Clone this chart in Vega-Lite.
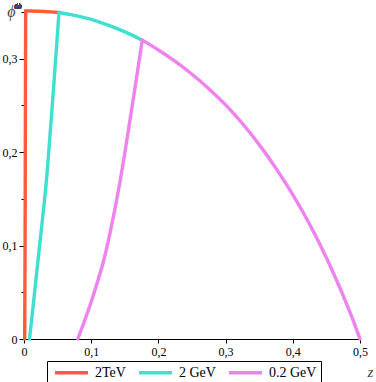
{
  "$schema": "https://vega.github.io/schema/vega-lite/v6.json",
  "width": 336,
  "height": 328,
  "autosize": {"type": "none"},
  "padding": {"left": 24, "top": 11, "right": 16, "bottom": 43},
  "background": "white",
  "config": {"view": {"stroke": null}},
  "data": {"values": [
    {"s": "2TeV", "p": "r", "z": 0.001, "phi": 0},
    {"s": "2TeV", "p": "r", "z": 0.0016, "phi": 0.1},
    {"s": "2TeV", "p": "r", "z": 0.0021, "phi": 0.25},
    {"s": "2TeV", "p": "r", "z": 0.0025, "phi": 0.3511},
    {"s": "2TeV", "p": "e", "z": 0.0025, "phi": 0.3511},
    {"s": "2TeV", "p": "e", "z": 0.01, "phi": 0.3510},
    {"s": "2TeV", "p": "e", "z": 0.02, "phi": 0.3508},
    {"s": "2TeV", "p": "e", "z": 0.03, "phi": 0.3505},
    {"s": "2TeV", "p": "e", "z": 0.04, "phi": 0.3501},
    {"s": "2TeV", "p": "e", "z": 0.052, "phi": 0.3494},
    {"s": "2 GeV", "p": "r", "z": 0.0082, "phi": 0},
    {"s": "2 GeV", "p": "r", "z": 0.0141, "phi": 0.0385},
    {"s": "2 GeV", "p": "r", "z": 0.0193, "phi": 0.0738},
    {"s": "2 GeV", "p": "r", "z": 0.0246, "phi": 0.1091},
    {"s": "2 GeV", "p": "r", "z": 0.0301, "phi": 0.1455},
    {"s": "2 GeV", "p": "r", "z": 0.0341, "phi": 0.1754},
    {"s": "2 GeV", "p": "r", "z": 0.0387, "phi": 0.2182},
    {"s": "2 GeV", "p": "r", "z": 0.0427, "phi": 0.2556},
    {"s": "2 GeV", "p": "r", "z": 0.0476, "phi": 0.3048},
    {"s": "2 GeV", "p": "r", "z": 0.0521, "phi": 0.3494},
    {"s": "2 GeV", "p": "e", "z": 0.0521, "phi": 0.3494},
    {"s": "2 GeV", "p": "e", "z": 0.07, "phi": 0.3471},
    {"s": "2 GeV", "p": "e", "z": 0.09, "phi": 0.3438},
    {"s": "2 GeV", "p": "e", "z": 0.11, "phi": 0.3396},
    {"s": "2 GeV", "p": "e", "z": 0.13, "phi": 0.3345},
    {"s": "2 GeV", "p": "e", "z": 0.15, "phi": 0.3287},
    {"s": "2 GeV", "p": "e", "z": 0.176, "phi": 0.3198},
    {"s": "0.2 GeV", "p": "r", "z": 0.0801, "phi": 0},
    {"s": "0.2 GeV", "p": "r", "z": 0.0911, "phi": 0.0214},
    {"s": "0.2 GeV", "p": "r", "z": 0.1009, "phi": 0.0417},
    {"s": "0.2 GeV", "p": "r", "z": 0.1107, "phi": 0.0642},
    {"s": "0.2 GeV", "p": "r", "z": 0.1188, "phi": 0.0845},
    {"s": "0.2 GeV", "p": "r", "z": 0.1292, "phi": 0.1176},
    {"s": "0.2 GeV", "p": "r", "z": 0.1381, "phi": 0.1497},
    {"s": "0.2 GeV", "p": "r", "z": 0.1433, "phi": 0.1701},
    {"s": "0.2 GeV", "p": "r", "z": 0.1533, "phi": 0.2139},
    {"s": "0.2 GeV", "p": "r", "z": 0.1649, "phi": 0.2674},
    {"s": "0.2 GeV", "p": "r", "z": 0.176, "phi": 0.3198},
    {"s": "0.2 GeV", "p": "e", "z": 0.176, "phi": 0.3198},
    {"s": "0.2 GeV", "p": "e", "z": 0.2, "phi": 0.3093},
    {"s": "0.2 GeV", "p": "e", "z": 0.225, "phi": 0.297},
    {"s": "0.2 GeV", "p": "e", "z": 0.25, "phi": 0.2833},
    {"s": "0.2 GeV", "p": "e", "z": 0.275, "phi": 0.2679},
    {"s": "0.2 GeV", "p": "e", "z": 0.3, "phi": 0.2505},
    {"s": "0.2 GeV", "p": "e", "z": 0.325, "phi": 0.2306},
    {"s": "0.2 GeV", "p": "e", "z": 0.35, "phi": 0.208},
    {"s": "0.2 GeV", "p": "e", "z": 0.375, "phi": 0.1826},
    {"s": "0.2 GeV", "p": "e", "z": 0.4, "phi": 0.1544},
    {"s": "0.2 GeV", "p": "e", "z": 0.425, "phi": 0.1228},
    {"s": "0.2 GeV", "p": "e", "z": 0.45, "phi": 0.087},
    {"s": "0.2 GeV", "p": "e", "z": 0.4625, "phi": 0.0672},
    {"s": "0.2 GeV", "p": "e", "z": 0.475, "phi": 0.0465},
    {"s": "0.2 GeV", "p": "e", "z": 0.4875, "phi": 0.0241},
    {"s": "0.2 GeV", "p": "e", "z": 0.5, "phi": 0}
  ]},
  "layer": [
    {
      "mark": {"type": "line", "strokeWidth": 3.4, "clip": false, "interpolate": "monotone", "strokeCap": "round", "strokeJoin": "round"},
      "encoding": {
        "x": {
          "field": "z", "type": "quantitative",
          "scale": {"domain": [0, 0.5], "nice": false, "zero": false},
          "axis": {
            "values": [0, 0.05, 0.1, 0.15, 0.2, 0.25, 0.3, 0.35, 0.4, 0.45, 0.5],
            "labelExpr": "round(datum.value*100) % 10 == 0 ? replace(format(datum.value, '.1~f'), '.', ',') : ''",
            "tickSize": {"condition": {"test": "round(datum.value*100) % 10 == 0", "value": 4}, "value": 3},
            "domainColor": "black", "tickColor": "black", "grid": false,
            "labelFont": "Liberation Serif", "labelFontSize": 12, "labelColor": "black",
            "labelPadding": 3, "labelFlush": false, "labelOverlap": false,
            "title": "z", "titleFont": "Liberation Serif", "titleFontStyle": "italic",
            "titleFontWeight": "normal", "titleFontSize": 15, "titleColor": "#444",
            "titleX": 346, "titleY": 32, "titleAlign": "center", "titleBaseline": "middle"
          }
        },
        "y": {
          "field": "phi", "type": "quantitative",
          "scale": {"domain": [0, 0.351], "nice": false, "zero": false},
          "axis": {
            "values": [0, 0.05, 0.1, 0.15, 0.2, 0.25, 0.3, 0.35],
            "labelExpr": "round(datum.value*100) % 10 == 0 ? replace(format(datum.value, '.1~f'), '.', ',') : ''",
            "tickSize": {"condition": {"test": "round(datum.value*100) % 10 == 0", "value": 5}, "value": 3},
            "domainColor": "black", "tickColor": "black", "grid": false,
            "labelFont": "Liberation Serif", "labelFontSize": 12, "labelColor": "black",
            "labelPadding": 2, "labelFlush": false, "labelOverlap": false,
            "title": "ϕ", "titleFont": "Liberation Serif, DejaVu Serif", "titleFontStyle": "italic",
            "titleFontWeight": "normal", "titleFontSize": 16, "titleColor": "#444", "titleAngle": 0,
            "titleX": -13, "titleY": 0, "titleAlign": "center", "titleBaseline": "middle"
          }
        },
        "color": {
          "field": "s", "type": "nominal",
          "scale": {"domain": ["2TeV", "2 GeV", "0.2 GeV"], "range": ["#FF5A3A", "#40E0D0", "#EE82EE"]},
          "legend": {
            "title": null, "orient": "none", "legendX": 23, "legendY": 350,
            "direction": "horizontal", "symbolType": "M-0.64,0H5.36", "symbolSize": 121,
            "symbolStrokeWidth": 3.4, "labelFont": "Liberation Serif", "labelFontSize": 14,
            "labelColor": "black", "labelOffset": 29, "columnPadding": 6, "padding": 4,
            "fillColor": "white", "strokeColor": "black", "cornerRadius": 0
          }
        },
        "detail": {"field": "p", "type": "nominal"}
      }
    },
    {
      "mark": {"type": "text", "text": "ω", "font": "Liberation Serif, DejaVu Serif", "fontStyle": "italic", "fontSize": 10, "color": "#444", "dx": -6, "dy": -5},
      "encoding": {
        "x": {"datum": 0, "type": "quantitative"},
        "y": {"datum": 0.351, "type": "quantitative"}
      }
    }
  ]
}
